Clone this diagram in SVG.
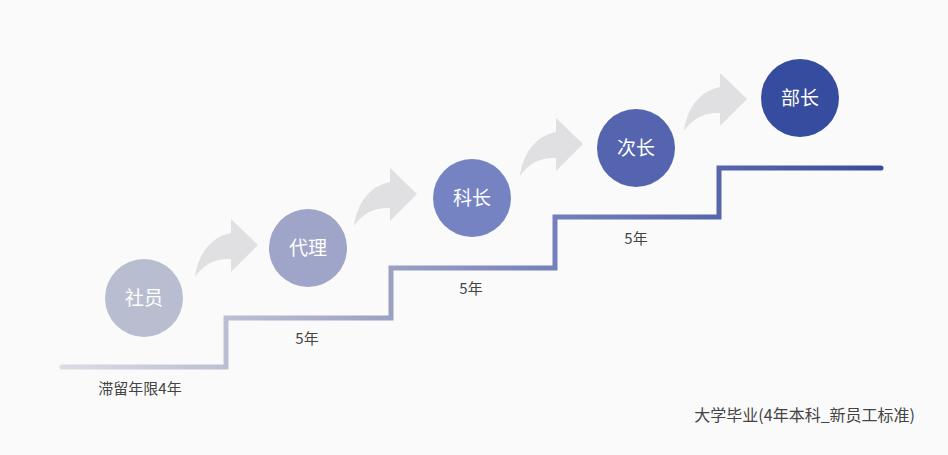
<svg xmlns="http://www.w3.org/2000/svg" width="948" height="455" viewBox="0 0 948 455">
<defs>
<style>
.t{font-family:"Noto Sans CJK SC","Noto Sans",sans-serif;font-size:15px;fill:#444;text-anchor:middle}
.c{font-family:"Noto Sans CJK SC","Noto Sans",sans-serif;font-size:19px;fill:#fff;text-anchor:middle}
.arr{fill:#e0dfe2}
</style>
<linearGradient id="g" gradientUnits="userSpaceOnUse" x1="62" y1="0" x2="881" y2="0">
<stop offset="0" stop-color="#dcdce3"/>
<stop offset="0.4" stop-color="#9ba1c3"/>
<stop offset="0.6" stop-color="#7480bb"/>
<stop offset="1" stop-color="#3a4c9e"/>
</linearGradient>
<path id="a" d="M195 277 C198 255 210 237 231 233 L231 219 L258 245 L231 272 L231 259 C215 258 203 265 195 277 Z"/>
</defs>
<rect width="948" height="455" fill="#fafafa"/>
<g id="connectors">
<polyline points="62,367 226,367 226,318 391,318 391,268 555,268 555,217 719,217 719,168 881,168" fill="none" stroke="url(#g)" stroke-width="5" stroke-linecap="round" stroke-linejoin="miter"/>
<use href="#a" class="arr"/>
<use href="#a" class="arr" transform="translate(159,-51)"/>
<use href="#a" class="arr" transform="translate(325,-101)"/>
<use href="#a" class="arr" transform="translate(489,-146)"/>
</g>
<g id="n1"><circle cx="144" cy="298" r="39" fill="#b9bdd0"/><text class="c" x="144" y="305">社员</text></g>
<g id="n2"><circle cx="308" cy="248" r="39" fill="#9ea5c8"/><text class="c" x="308" y="255">代理</text></g>
<g id="n3"><circle cx="472" cy="198" r="39" fill="#7683c3"/><text class="c" x="472" y="205">科长</text></g>
<g id="n4"><circle cx="636" cy="148" r="39" fill="#5464ae"/><text class="c" x="636" y="155">次长</text></g>
<g id="n5"><circle cx="800" cy="98" r="39" fill="#364c9e"/><text class="c" x="800" y="105">部长</text></g>
<g id="labels">
<text class="t" x="140" y="394">滞留年限4年</text>
<text class="t" x="307" y="344">5年</text>
<text class="t" x="471" y="294">5年</text>
<text class="t" x="636" y="244">5年</text>
<text class="t" x="915" y="421" style="text-anchor:end;font-size:16px">大学毕业(4年本科_新员工标准)</text>
</g>
</svg>
